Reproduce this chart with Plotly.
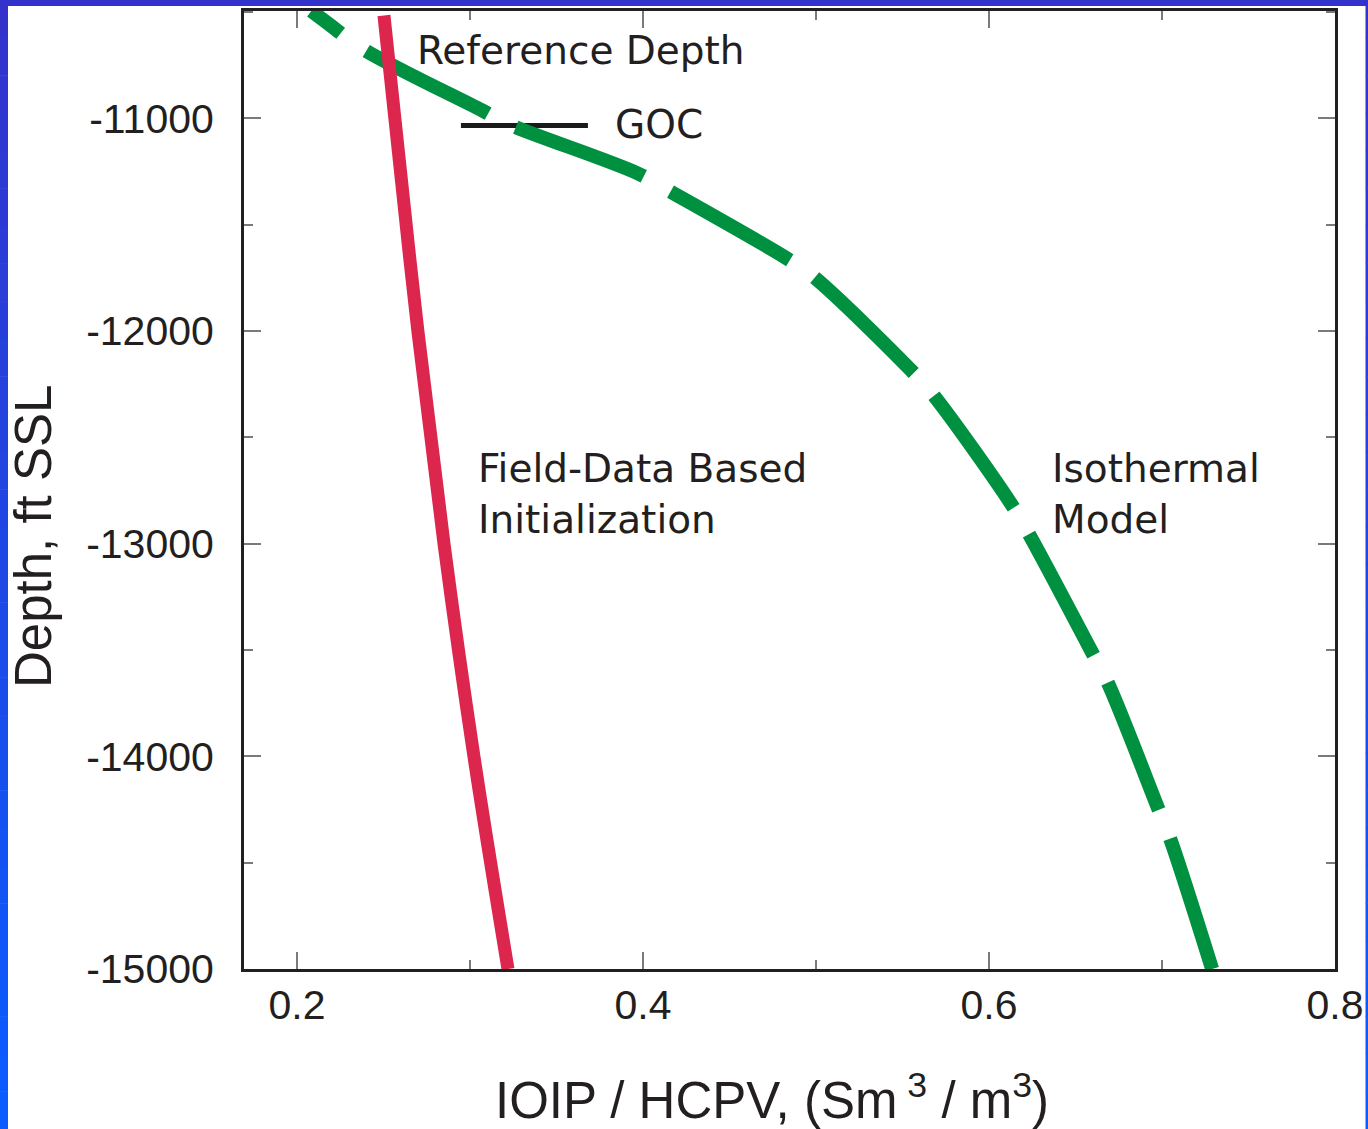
import plotly.graph_objects as go

# ---------------- data ----------------
# Field-data based initialization (red)
field_x = [0.2503, 0.2566, 0.2699, 0.2850, 0.3023, 0.3220]
field_y = [-10516, -11000, -12000, -13000, -14000, -15000]

# Isothermal model (green dashed), listed from deepest to shallowest
iso_x = [0.7290, 0.7046, 0.6977, 0.6688, 0.6595, 0.6225, 0.6133, 0.5671, 0.5549,
         0.4977, 0.4821, 0.4145, 0.3971, 0.3214, 0.3069, 0.2376, 0.2179, 0.2083]
iso_y = [-15000, -14384, -14243, -13656, -13510, -12946, -12819, -12293, -12184,
         -11738, -11653, -11338, -11259, -11024, -10962, -10671, -10553, -10495]

# Gas-oil contact marker
goc_x = [0.2948, 0.3682]
goc_y = [-11033, -11033]

x_tickvals = [0.2, 0.4, 0.6, 0.8]
x_ticktext = ["0.2", "0.4", "0.6", "0.8"]
x_minor = [0.3, 0.5, 0.7]
y_tickvals = [-11000, -12000, -13000, -14000, -15000]
y_ticktext = ["-11000", "-12000", "-13000", "-14000", "-15000"]
y_minor = [-10500, -11500, -12500, -13500, -14500]

# ---------------- figure ----------------
W, H = 1368, 1129
ML, MR, MT, MB = 244, 33, 11, 160
PW, PH = W - ML - MR, H - MT - MB

TXT = "#231f20"
TICK = "#7a7a7a"

fig = go.Figure()
fig.add_trace(go.Scatter(x=goc_x, y=goc_y, mode="lines",
                         line=dict(color="#1a1a1a", width=5), hoverinfo="skip"))
fig.add_trace(go.Scatter(x=iso_x, y=iso_y, mode="lines",
                         line=dict(color="#009140", width=14, dash="137px,31px", shape="spline"),
                         name="Isothermal Model"))
fig.add_trace(go.Scatter(x=field_x, y=field_y, mode="lines",
                         line=dict(color="#dc264e", width=13, shape="spline"),
                         name="Field-Data Based Initialization"))

tickfont = dict(family="Liberation Sans, Arial, sans-serif", size=41, color=TXT)
fig.update_layout(
    width=W, height=H, autosize=False,
    margin=dict(l=ML, r=MR, t=MT, b=MB),
    paper_bgcolor="white", plot_bgcolor="white",
    showlegend=False,
    xaxis=dict(range=[0.1694, 0.8], tickvals=x_tickvals, ticktext=x_ticktext,
               ticks="inside", ticklen=17, tickwidth=1.5, tickcolor=TICK,
               minor=dict(tickvals=x_minor, ticks="inside", ticklen=9, tickwidth=1.5, tickcolor=TICK),
               showline=True, linewidth=3, linecolor=TXT, mirror="ticks", automargin=False,
               showgrid=False, zeroline=False, tickfont=tickfont, ticklabelstandoff=-2),
    yaxis=dict(range=[-15000, -10495], tickvals=y_tickvals, ticktext=y_ticktext,
               ticks="inside", ticklen=17, tickwidth=1.5, tickcolor=TICK,
               minor=dict(tickvals=y_minor, ticks="inside", ticklen=9, tickwidth=1.5, tickcolor=TICK),
               showline=True, linewidth=3, linecolor=TXT, mirror="ticks", automargin=False,
               showgrid=False, zeroline=False, tickfont=tickfont, ticklabelstandoff=19),
)

afont = dict(family="DejaVu Sans, sans-serif", size=39, color=TXT)
ann = [
    dict(x=0.2682, y=-10680, text="Reference Depth", xanchor="left", yanchor="middle"),
    dict(x=0.3827, y=-11028, text="GOC", xanchor="left", yanchor="middle"),
    dict(x=0.3035, y=-12767, text="Field-Data Based<br>Initialization", xanchor="left",
         yanchor="middle", align="left"),
    dict(x=0.6353, y=-12767, text="Isothermal<br>Model", xanchor="left",
         yanchor="middle", align="left"),
]
for a in ann:
    fig.add_annotation(xref="x", yref="y", showarrow=False, font=afont, **a)

tfont = dict(family="Liberation Sans, Arial, sans-serif", size=51, color=TXT)
fig.add_annotation(xref="paper", yref="paper", x=(772 - ML) / PW, y=(969 - 1097) / PH,
                   text="IOIP / HCPV, (Sm<sup> 3</sup> / m<sup>3</sup>)", showarrow=False,
                   xanchor="center", yanchor="middle", font=tfont, borderpad=0)
fig.add_annotation(xref="paper", yref="paper", x=(33 - ML) / PW, y=(969 - 537) / PH,
                   text="Depth, ft SSL", showarrow=False, textangle=-90,
                   xanchor="center", yanchor="middle", font=tfont)

# ---------------- blue frame decoration ----------------
def px_x(p):
    return (p - ML) / PW

def px_y(p):
    return (H - MB - p) / PH

shapes = []
n = 30
c0 = (51, 51, 204)
c1 = (10, 92, 255)
for i in range(n):
    t = i / (n - 1)
    col = "rgb(%d,%d,%d)" % tuple(round(c0[k] + (c1[k] - c0[k]) * t) for k in range(3))
    shapes.append(dict(type="rect", xref="paper", yref="paper",
                       x0=px_x(0), x1=px_x(8), y0=px_y(H * (i + 1) / n + 0.5), y1=px_y(H * i / n),
                       fillcolor=col, line=dict(width=0), layer="above"))
    shapes.append(dict(type="rect", xref="paper", yref="paper",
                       x0=px_x(1365.5), x1=px_x(W), y0=px_y(H * (i + 1) / n + 0.5), y1=px_y(H * i / n),
                       fillcolor=col, line=dict(width=0), layer="above"))
shapes.append(dict(type="rect", xref="paper", yref="paper",
                   x0=px_x(0), x1=px_x(W), y0=px_y(6), y1=px_y(0),
                   fillcolor="rgb(51,51,204)", line=dict(width=0), layer="above"))
fig.update_layout(shapes=shapes)

post = ("document.documentElement.style.overflow='hidden';"
        "document.documentElement.style.height='1129px';"
        "document.body.style.margin='0';"
        "document.body.style.overflow='hidden';"
        "document.body.style.height='1129px';")
fig.write_html("out.html", config={"displayModeBar": False, "responsive": False},
               post_script=post)
